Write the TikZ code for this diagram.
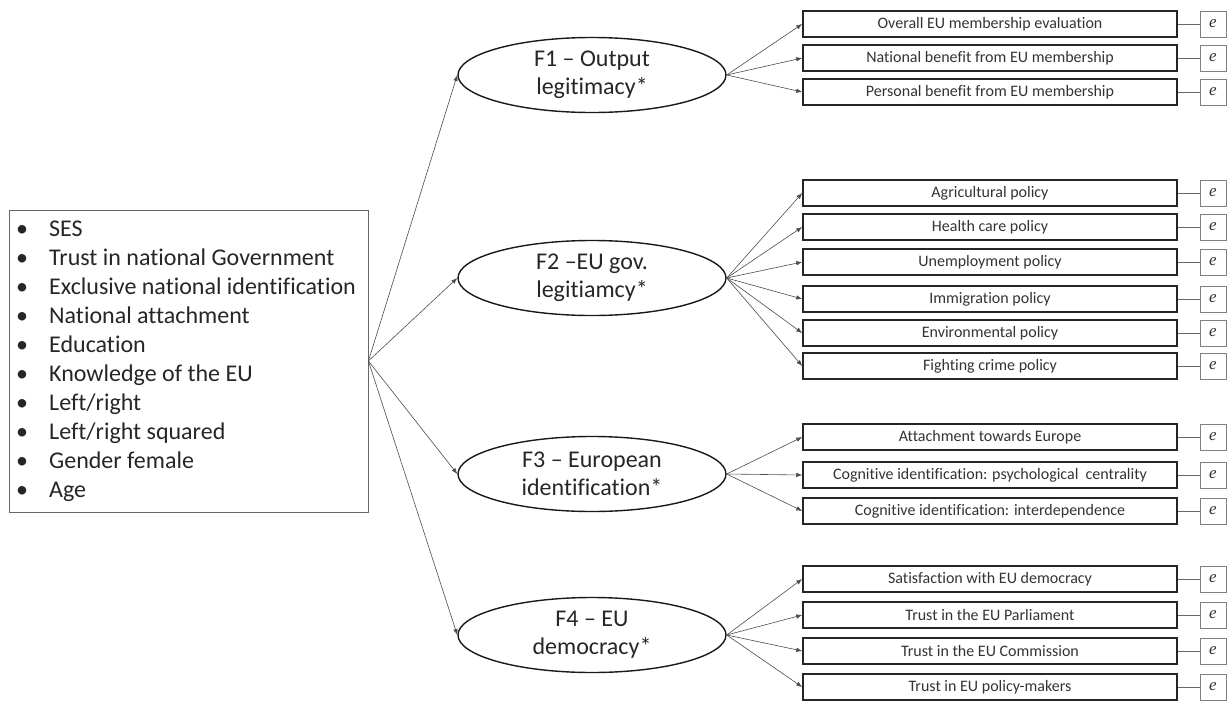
\documentclass[tikz,border=0pt]{standalone}
\usepackage{fontspec}
\setmainfont[Ligatures=CommonOff]{Carlito}
\newfontfamily\efont{Liberation Serif}
\usetikzlibrary{shapes.geometric,arrows.meta}
\begin{document}
\begin{tikzpicture}[x=1pt,y=-1pt,
  factor/.style={ellipse,draw=black!90,line width=1.4pt,minimum width=268pt,minimum height=75pt,inner sep=0pt,align=center,font=\fontsize{24}{28}\selectfont,text=black!85},
  ind/.style={draw=black!85,line width=1.5pt,minimum width=374pt,minimum height=26pt,inner sep=0pt,font=\fontsize{16}{18}\selectfont,text=black!80},
  err/.style={draw=black!50,line width=0.8pt,minimum width=26pt,minimum height=26pt,inner sep=0pt,font=\efont\itshape\fontsize{17}{18}\selectfont,text=black!80},
  conn/.style={draw=black!70,line width=0.6pt,-{Latex[length=6pt,width=4.5pt]}},
  eline/.style={draw=black!60,line width=0.8pt},
  bul/.style={font=\fontsize{24}{29}\selectfont,text=black!85}
]
\useasboundingbox (0,0) rectangle (1227,702);

% predictor box
\node[draw=black!60,line width=0.8pt,minimum width=359pt,minimum height=302pt,inner sep=0pt] (pred) at (188.5,361) {};
\node[anchor=west,inner sep=0pt,bul] (predlist) at (16,361) {%
\begin{tabular}{@{}l@{}}
\makebox[12pt]{•}\hspace{21pt}SES\\
\makebox[12pt]{•}\hspace{21pt}Trust in national Government\\
\makebox[12pt]{•}\hspace{21pt}Exclusive national identification\\
\makebox[12pt]{•}\hspace{21pt}National attachment\\
\makebox[12pt]{•}\hspace{21pt}Education\\
\makebox[12pt]{•}\hspace{21pt}Knowledge of the EU\\
\makebox[12pt]{•}\hspace{21pt}Left/right\\
\makebox[12pt]{•}\hspace{21pt}Left/right squared\\
\makebox[12pt]{•}\hspace{21pt}Gender female\\
\makebox[12pt]{•}\hspace{21pt}Age
\end{tabular}};

% factors
\node[factor] (F1) at (592,75) {F1 – Output\\legitimacy*};
\node[factor] (F2) at (592,278) {F2 –EU gov.\\legitiamcy*};
\node[factor] (F3) at (592,474) {F3 – European\\identification*};
\node[factor] (F4) at (592,635) {F4 – EU\\democracy*};

\foreach \f in {F1,F2,F3,F4} \draw[conn] (pred.east) -- (\f.west);

% indicators
\foreach \n/\y/\t in {
  a1/24/Overall EU membership evaluation,
  a2/58/National benefit from EU membership,
  a3/92/Personal benefit from EU membership,
  b1/193/Agricultural policy,
  b2/227/Health care policy,
  b3/262/Unemployment policy,
  b4/299/Immigration policy,
  b5/333/Environmental policy,
  b6/366/Fighting crime policy,
  c1/437/Attachment towards Europe,
  c2/475/Cognitive identification: psychological\ \ centrality,
  c3/511/Cognitive identification: interdependence,
  d1/579/Satisfaction with EU democracy,
  d2/615/Trust in the EU Parliament,
  d3/651/Trust in the EU Commission,
  d4/687/Trust in EU policy-makers}{
  \node[ind] (i\n) at (990,\y) {\t};
  \node[err] (e\n) at (1213,\y) {e};
  \draw[eline] (i\n) -- (e\n);
}

\foreach \n in {a1,a2,a3} \draw[conn] (F1.east) -- (i\n.west);
\foreach \n in {b1,b2,b3,b4,b5,b6} \draw[conn] (F2.east) -- (i\n.west);
\foreach \n in {c1,c2,c3} \draw[conn] (F3.east) -- (i\n.west);
\foreach \n in {d1,d2,d3,d4} \draw[conn] (F4.east) -- (i\n.west);
\end{tikzpicture}
\end{document}
